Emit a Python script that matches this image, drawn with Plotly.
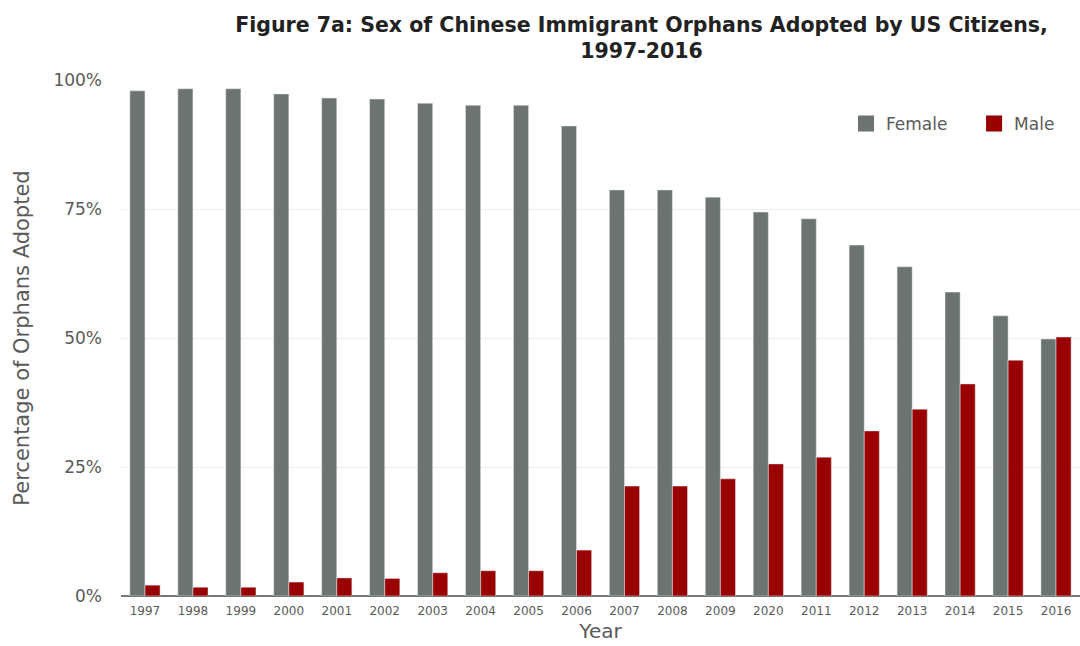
import plotly.graph_objects as go

years = ["1997", "1998", "1999", "2000", "2001", "2002", "2003", "2004", "2005", "2006",
         "2007", "2008", "2009", "2020", "2011", "2012", "2013", "2014", "2015", "2016"]
female = [97.9, 98.3, 98.3, 97.3, 96.5, 96.3, 95.5, 95.1, 95.1, 91.1,
          78.7, 78.7, 77.3, 74.4, 73.1, 68.0, 63.8, 58.9, 54.3, 49.8]
male = [2.1, 1.7, 1.7, 2.7, 3.5, 3.4, 4.5, 4.9, 4.9, 8.9,
        21.3, 21.3, 22.7, 25.6, 26.9, 32.0, 36.2, 41.1, 45.7, 50.2]
y_ticks = [0, 25, 50, 75, 100]
y_tick_text = ["0%", "25%", "50%", "75%", "100%"]

FONT = "DejaVu Sans"
GREY = "#6c7370"
RED = "#990000"
TEXT = "#5a5a5a"

fig = go.Figure()
fig.add_trace(go.Bar(name="Female", x=years, y=female, marker_color=GREY, showlegend=False))
fig.add_trace(go.Bar(name="Male", x=years, y=male, marker_color=RED, showlegend=False))

# larger square swatches for the legend (non-breaking spaces widen the gap between entries)
for name, col in (("Female\u00a0\u00a0\u00a0\u00a0", GREY), ("Male", RED)):
    fig.add_trace(go.Scatter(
        name=name, x=[None], y=[None], mode="markers",
        marker=dict(symbol="square", size=16, color=col), showlegend=True,
    ))

fig.update_layout(
    width=1080, height=646,
    margin=dict(l=121, r=0, t=80, b=50),
    paper_bgcolor="white", plot_bgcolor="white",
    barmode="group", bargap=0.37, bargroupgap=0.0,
    font=dict(family=FONT, color=TEXT),
    title=dict(
        text="<b>Figure 7a: Sex of Chinese Immigrant Orphans Adopted by US Citizens,<br>1997-2016</b>",
        x=0.594, xanchor="center", xref="container",
        y=0.951, yanchor="top", yref="container",
        font=dict(family=FONT, size=20.5, color="#222222"),
    ),
    legend=dict(
        orientation="h", x=0.756, xanchor="left", y=0.915, yanchor="middle",
        font=dict(family=FONT, size=17, color=TEXT),
        bgcolor="rgba(0,0,0,0)", itemsizing="trace", tracegroupgap=0,
    ),
    xaxis=dict(
        type="category",
        tickfont=dict(family=FONT, size=12, color=TEXT),
        ticklabelstandoff=6,
        title=dict(text="Year", font=dict(family=FONT, size=20, color=TEXT), standoff=6),
        showgrid=False, showline=False, ticks="",
    ),
    yaxis=dict(
        range=[0, 100], tickmode="array", tickvals=y_ticks, ticktext=y_tick_text,
        tickfont=dict(family=FONT, size=17, color=TEXT),
        ticklabelstandoff=18,
        title=dict(text="Percentage of Orphans Adopted", font=dict(family=FONT, size=21, color=TEXT), standoff=18),
        showgrid=True, gridcolor="#eeeeee", gridwidth=1,
        zeroline=True, zerolinecolor="#777777", zerolinewidth=1.5,
    ),
)

fig.write_html("out.html")
